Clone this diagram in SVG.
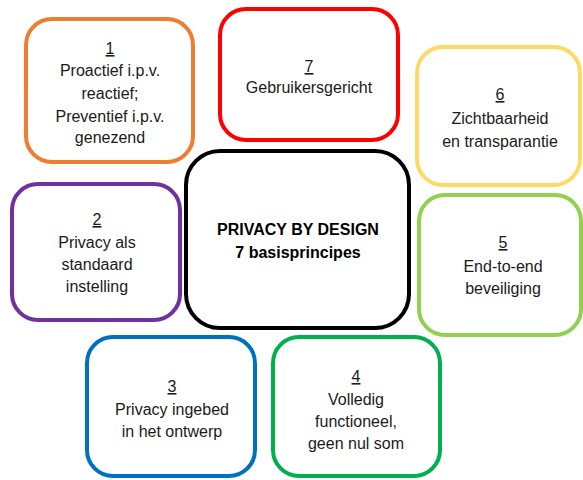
<svg xmlns="http://www.w3.org/2000/svg" width="583" height="480" viewBox="0 0 583 480">
<style>
.box{fill:#fff;stroke-width:4}
.t{font-family:"Liberation Sans",Arial,sans-serif;font-size:16px;fill:#1a1a1a;text-anchor:middle}
.n{text-decoration:underline}
.c{font-family:"Liberation Sans",Arial,sans-serif;font-size:16px;font-weight:bold;fill:#000;text-anchor:middle}
</style>
<rect width="583" height="480" fill="#fff"/>
<g id="node1">
<rect class="box" x="26" y="19" width="167" height="143" rx="26" stroke="#ED7D31"/>
<text class="t" x="110" y="54"><tspan class="n">1</tspan><tspan x="110" y="76">Proactief i.p.v.</tspan><tspan x="110" y="99">reactief;</tspan><tspan x="110" y="122">Preventief i.p.v.</tspan><tspan x="110" y="143">genezend</tspan></text>
</g>
<g id="node7">
<rect class="box" x="220" y="9" width="178" height="131" rx="26" stroke="#FF0000"/>
<text class="t" x="309" y="72"><tspan class="n">7</tspan><tspan x="309" y="93">Gebruikersgericht</tspan></text>
</g>
<g id="node6">
<rect class="box" x="417" y="47" width="163" height="138" rx="26" stroke="#FFD966"/>
<text class="t" x="500" y="100"><tspan class="n">6</tspan><tspan x="500" y="124">Zichtbaarheid</tspan><tspan x="500" y="147">en transparantie</tspan></text>
</g>
<g id="node2">
<rect class="box" x="12" y="184" width="168" height="136" rx="26" stroke="#7030A0"/>
<text class="t" x="97" y="225"><tspan class="n">2</tspan><tspan x="97" y="248">Privacy als</tspan><tspan x="97" y="270">standaard</tspan><tspan x="97" y="292">instelling</tspan></text>
</g>
<g id="center">
<rect class="box" x="186" y="151" width="223" height="177" rx="34" stroke="#000" stroke-width="5"/>
<text class="c" x="298" y="235">PRIVACY BY DESIGN<tspan x="298" y="258">7 basisprincipes</tspan></text>
</g>
<g id="node5">
<rect class="box" x="419" y="195" width="162" height="140" rx="26" stroke="#92D050"/>
<text class="t" x="503" y="248"><tspan class="n">5</tspan><tspan x="503" y="272">End-to-end</tspan><tspan x="503" y="294">beveiliging</tspan></text>
</g>
<g id="node3">
<rect class="box" x="87" y="337" width="168" height="139" rx="26" stroke="#0070C0"/>
<text class="t" x="172" y="392"><tspan class="n">3</tspan><tspan x="172" y="415">Privacy ingebed</tspan><tspan x="172" y="437">in het ontwerp</tspan></text>
</g>
<g id="node4">
<rect class="box" x="273" y="337" width="167" height="139" rx="26" stroke="#00B050"/>
<text class="t" x="356" y="382"><tspan class="n">4</tspan><tspan x="356" y="405">Volledig</tspan><tspan x="356" y="427">functioneel,</tspan><tspan x="356" y="449">geen nul som</tspan></text>
</g>
<g id="connectors"></g>
</svg>
